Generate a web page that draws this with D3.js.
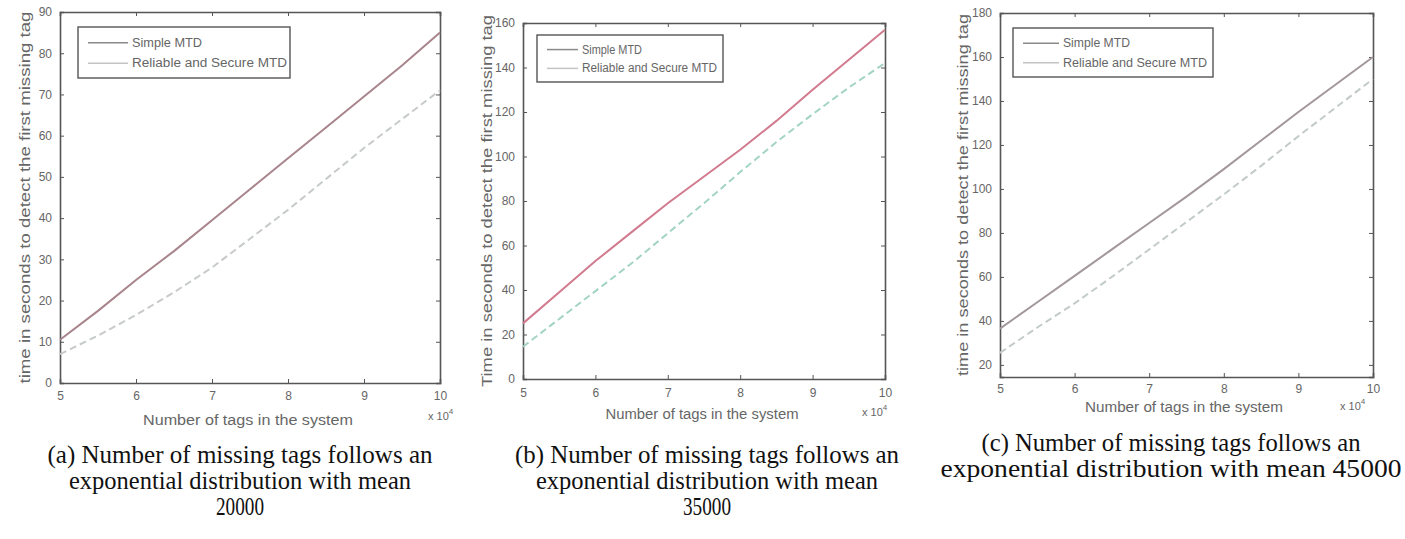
<!DOCTYPE html>
<html>
<head>
<meta charset="utf-8">
<script src="https://cdn.jsdelivr.net/npm/d3@7/dist/d3.min.js"></script>
<style>
  html, body { margin: 0; padding: 0; background: #fff; }
  svg { display: block; }
</style>
</head>
<body>
<svg id="fig" width="1405" height="539"></svg>
<script>
// ── Data ─────────────────────────────────────────────
const xTags   = [5, 5.5, 6, 6.5, 7, 7.5, 8, 8.5, 9, 9.5, 10];   // x 10^4
const xTicks  = [5, 6, 7, 8, 9, 10];

const simpleA   = [10.5, 17.5, 25, 32, 39.5, 47, 54.5, 62, 69.5, 77, 85];
const reliableA = [7, 11.5, 16.5, 22, 28, 35, 42, 49.5, 57, 64, 71];
const yTicksA   = [0, 10, 20, 30, 40, 50, 60, 70, 80, 90];

const simpleB   = [25, 39, 53, 66, 79, 91, 103, 116, 130, 143.5, 157];
const reliableB = [14.5, 27, 39.5, 52, 65.5, 79, 93, 106.5, 119, 131, 142];
const yTicksB   = [0, 20, 40, 60, 80, 100, 120, 140, 160];

const simpleC   = [36.5, 48.5, 60.5, 72.5, 84.5, 96.5, 109, 122, 135, 147.5, 160];
const reliableC = [25.5, 37, 48, 60, 72.5, 85, 97.5, 110.5, 124, 137, 150];
const yTicksC   = [20, 40, 60, 80, 100, 120, 140, 160, 180];

const seriesNames = ['Simple MTD', 'Reliable and Secure MTD'];
const yLabels = [
  'time in seconds to detect  the first missing tag',
  'Time in seconds to detect the first missing tag',
  'time in seconds to detect the first missing tag'
];
const xLabel = 'Number of tags in the system';
const captions = [
  ['(a) Number of missing tags follows an', 'exponential distribution with mean', '20000'],
  ['(b) Number of missing tags follows an', 'exponential distribution with mean', '35000'],
  ['(c) Number of missing tags follows an', 'exponential distribution with mean 45000']
];

// ── Layout per panel ─────────────────────────────────
const panels = [
  { l: 60,   r: 440,  t: 12, b: 383, yDom: [0, 90],    yTicks: yTicksA, s: simpleA, rel: reliableA,
    simpleCol: '#a8858c', relCol: '#c6cbc9', ylx: 25,  ylW: 372, xlY: 425, xlW: 210, xlCx: 248,
    xMulX: 428, xMulY: 420, tickY: 400,
    leg: { x: 78, y: 27, w: 212, h: 51, tx: 132, tw: [70, 155] },
    cap: { cx: 240, y0: 463, widths: [385, 342, 48] } },
  { l: 523,  r: 885,  t: 23, b: 379, yDom: [0, 160],   yTicks: yTicksB, s: simpleB, rel: reliableB,
    simpleCol: '#d27a8e', relCol: '#a3d4c3', ylx: 487, ylW: 372, xlY: 419, xlW: 193, xlCx: 702,
    xMulX: 862, xMulY: 416, tickY: 397,
    leg: { x: 537, y: 35, w: 186, h: 47, tx: 582, tw: [60, 135] },
    cap: { cx: 707, y0: 463, widths: [384, 342, 48] } },
  { l: 1000, r: 1373, t: 13, b: 377, yDom: [14.5, 180], yTicks: yTicksC, s: simpleC, rel: reliableC,
    simpleCol: '#a3979b', relCol: '#c3cbc7', ylx: 963, ylW: 362, xlY: 412, xlW: 198, xlCx: 1184,
    xMulX: 1340, xMulY: 410, tickY: 393,
    leg: { x: 1013, y: 28, w: 200, h: 49, tx: 1063, tw: [67, 144] },
    cap: { cx: 1171, y0: 451, widths: [379, 461] } }
];

const svg = d3.select('#fig');
const AX = '#555';
const TXT = '#666';
const SANS = "'Liberation Sans', Arial, sans-serif";
const SERIF = "'Liberation Serif', 'Times New Roman', serif";

panels.forEach((p, i) => {
  const x = d3.scaleLinear().domain([5, 10]).range([p.l, p.r]);
  const y = d3.scaleLinear().domain(p.yDom).range([p.b, p.t]);
  const g = svg.append('g');

  // axes: bottom/left labelled, top/right ticks only (box on), ticks pointing in
  const bottom = d3.axisBottom(x).tickValues(xTicks).tickSize(-4).tickPadding(10).tickFormat(d3.format('d'));
  const top    = d3.axisTop(x).tickValues(xTicks).tickSize(-4).tickFormat('');
  const left   = d3.axisLeft(y).tickValues(p.yTicks).tickSize(-4).tickPadding(8).tickFormat(d3.format('d'));
  const right  = d3.axisRight(y).tickValues(p.yTicks).tickSize(-4).tickFormat('');

  const gb = g.append('g').attr('transform', `translate(0,${p.b})`).call(bottom);
  const gt = g.append('g').attr('transform', `translate(0,${p.t})`).call(top);
  const gl = g.append('g').attr('transform', `translate(${p.l},0)`).call(left);
  const gr = g.append('g').attr('transform', `translate(${p.r},0)`).call(right);
  [gb, gt, gl, gr].forEach(a => {
    a.select('.domain').attr('stroke', AX).attr('stroke-width', 1.6);
    a.selectAll('.tick line').attr('stroke', AX).attr('stroke-width', 1);
    a.selectAll('text').attr('fill', TXT).attr('font-family', SANS).attr('font-size', 12);
  });
  gb.selectAll('text').attr('dy', null).attr('y', null)
    .attr('transform', `translate(0,${p.tickY - p.b})`);

  // lines
  const line = d3.line().x((d, k) => x(xTags[k])).y(d => y(d));
  g.append('path').datum(p.rel).attr('d', line).attr('fill', 'none')
    .attr('stroke', p.relCol).attr('stroke-width', 2).attr('stroke-dasharray', '7,4');
  g.append('path').datum(p.s).attr('d', line).attr('fill', 'none')
    .attr('stroke', p.simpleCol).attr('stroke-width', 2);

  // legend
  const L = p.leg;
  const lg = g.append('g');
  lg.append('rect').attr('x', L.x).attr('y', L.y).attr('width', L.w).attr('height', L.h)
    .attr('fill', '#fff').attr('stroke', AX).attr('stroke-width', 1.4);
  const rowY = [L.y + L.h * 0.31, L.y + L.h * 0.71];
  seriesNames.forEach((name, k) => {
    lg.append('line').attr('x1', L.x + 10).attr('x2', L.tx - 4)
      .attr('y1', rowY[k]).attr('y2', rowY[k])
      .attr('stroke', k === 0 ? '#8a8a8a' : '#c4c4c4').attr('stroke-width', 1.5);
    lg.append('text').attr('x', L.tx).attr('y', rowY[k] + 4)
      .attr('font-family', SANS).attr('font-size', 12).attr('fill', TXT)
      .attr('textLength', L.tw[k]).attr('lengthAdjust', 'spacingAndGlyphs')
      .text(name);
  });

  // axis labels
  g.append('text')
    .attr('transform', `translate(${p.ylx},${(p.t + p.b) / 2}) rotate(-90)`)
    .attr('text-anchor', 'middle').attr('dy', '0.35em')
    .attr('font-family', SANS).attr('font-size', 14).attr('fill', TXT)
    .attr('textLength', p.ylW).attr('lengthAdjust', 'spacingAndGlyphs')
    .text(yLabels[i]);
  g.append('text')
    .attr('x', p.xlCx).attr('y', p.xlY).attr('text-anchor', 'middle')
    .attr('font-family', SANS).attr('font-size', 14).attr('fill', TXT)
    .attr('textLength', p.xlW).attr('lengthAdjust', 'spacingAndGlyphs')
    .text(xLabel);
  const mul = g.append('text').attr('x', p.xMulX).attr('y', p.xMulY)
    .attr('font-family', SANS).attr('font-size', 11).attr('fill', TXT);
  mul.append('tspan').text('x 10');
  mul.append('tspan').attr('dy', -6).attr('font-size', 8).text('4');

  // caption
  captions[i].forEach((txt, k) => {
    svg.append('text')
      .attr('x', p.cap.cx).attr('y', p.cap.y0 + k * 26)
      .attr('text-anchor', 'middle')
      .attr('font-family', SERIF).attr('font-size', 25).attr('fill', '#111')
      .attr('textLength', p.cap.widths[k]).attr('lengthAdjust', 'spacingAndGlyphs')
      .text(txt);
  });
});
</script>
</body>
</html>
